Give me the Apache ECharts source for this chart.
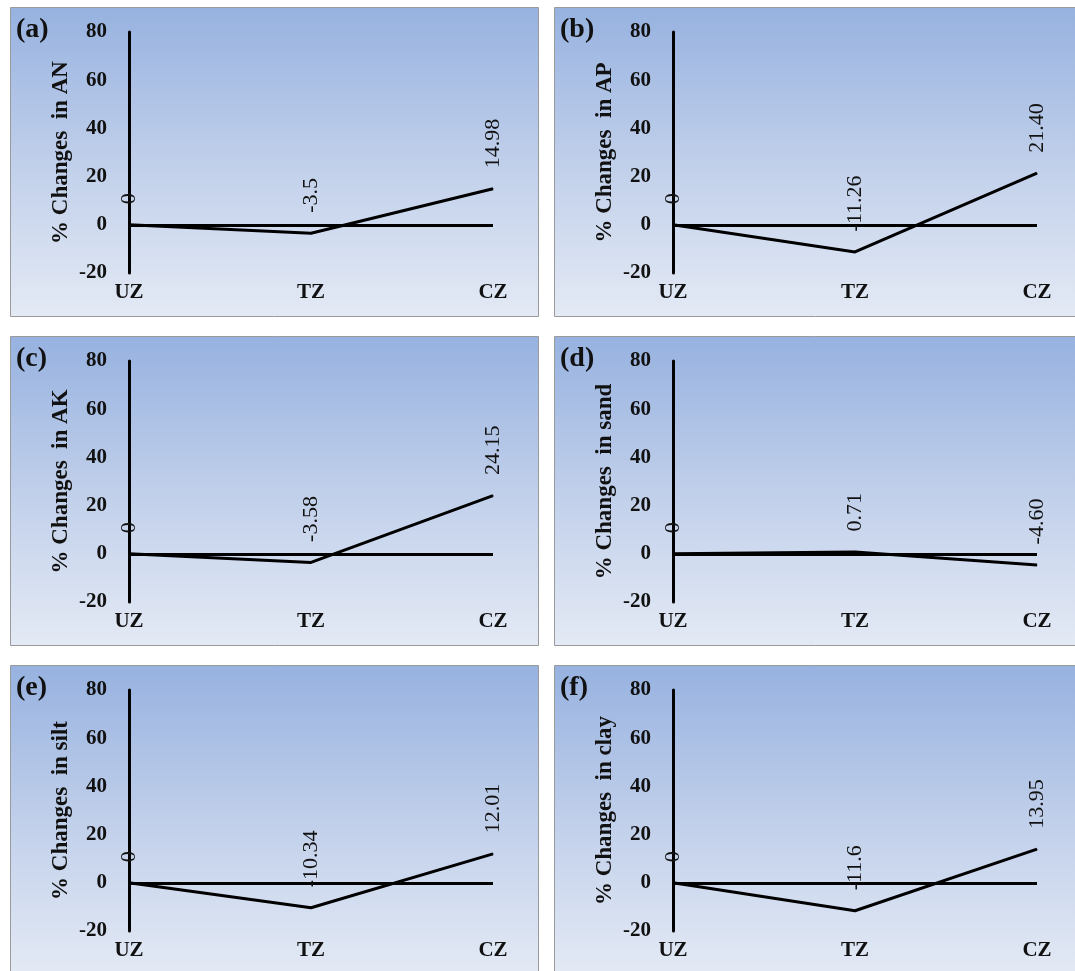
<!DOCTYPE html>
<html>
<head>
<meta charset="utf-8">
<script src="https://cdn.jsdelivr.net/npm/echarts@6/dist/echarts.min.js"></script>
<style>
html,body{margin:0;padding:0;background:#fff;}
#chart{width:1075px;height:971px;}
</style>
</head>
<body>
<div id="chart"></div>
<script>
var categories = ['UZ', 'TZ', 'CZ'];
var panelLetters = ['(a)', '(b)', '(c)', '(d)', '(e)', '(f)'];
var axisNames = ['% Changes  in AN', '% Changes  in AP', '% Changes  in AK', '% Changes  in sand', '% Changes  in silt', '% Changes  in clay'];
var valuesAN = [0, -3.5, 14.98];
var valuesAP = [0, -11.26, 21.40];
var valuesAK = [0, -3.58, 24.15];
var valuesSand = [0, 0.71, -4.60];
var valuesSilt = [0, -10.34, 12.01];
var valuesClay = [0, -11.6, 13.95];
var labelsAN = ['0', '-3.5', '14.98'];
var labelsAP = ['0', '-11.26', '21.40'];
var labelsAK = ['0', '-3.58', '24.15'];
var labelsSand = ['0', '0.71', '-4.60'];
var labelsSilt = ['0', '-10.34', '12.01'];
var labelsClay = ['0', '-11.6', '13.95'];
var yMin = -20, yMax = 80, yInterval = 20;

var allValues = [valuesAN, valuesAP, valuesAK, valuesSand, valuesSilt, valuesClay];
var allLabels = [labelsAN, labelsAP, labelsAK, labelsSand, labelsSilt, labelsClay];

var FONT = "'Liberation Serif', 'Times New Roman', serif";
var colX = [10, 554], rowY = [7, 336, 665];
var boxW = 528, boxH = 309;

var grids = [], xAxes = [], yAxes = [], series = [], graphics = [];
for (var i = 0; i < 6; i++) {
  var bx = colX[i % 2], by = rowY[Math.floor(i / 2)];
  graphics.push({
    type: 'rect', z: -10,
    shape: {x: bx + 0.5, y: by + 0.5, width: boxW, height: boxH},
    style: {
      fill: new echarts.graphic.LinearGradient(0, 0, 0, 1, [
        {offset: 0, color: '#97b2e0'},
        {offset: 0.5, color: '#c0cfea'},
        {offset: 1, color: '#e4eaf5'}
      ]),
      stroke: '#9a9a9a', lineWidth: 1
    }
  });
  graphics.push({
    type: 'text', z: 10,
    style: {x: bx + 6, y: by + 9, text: panelLetters[i], fill: '#111',
      font: 'bold 28px ' + FONT, textVerticalAlign: 'top'}
  });
  grids.push({left: bx + 119, top: by + 25, width: 364, height: 241});
  xAxes.push({
    type: 'category', gridIndex: i, data: categories, boundaryGap: false,
    axisLine: {show: false}, axisTick: {show: false}, splitLine: {show: false},
    axisLabel: {margin: 9, color: '#111', fontFamily: FONT, fontWeight: 'bold', fontSize: 21}
  });
  yAxes.push({
    type: 'value', gridIndex: i, min: yMin, max: yMax, interval: yInterval,
    name: axisNames[i], nameLocation: 'middle', nameGap: 56,
    nameTextStyle: {color: '#111', fontFamily: FONT, fontWeight: 'bold', fontSize: 23},
    axisLine: {show: true, lineStyle: {color: '#000', width: 3}},
    axisTick: {show: false}, splitLine: {show: false},
    axisLabel: {margin: 22, color: '#111', fontFamily: FONT, fontWeight: 'bold', fontSize: 21}
  });
  (function (labels) {
    series.push({
      type: 'line', xAxisIndex: i, yAxisIndex: i, data: allValues[i],
      symbol: 'circle', symbolSize: 1, itemStyle: {color: '#000'},
      lineStyle: {color: '#000', width: 3},
      animation: false, silent: true, z: 5,
      label: {
        show: true, position: 'top', distance: 20, rotate: 90,
        align: 'left', verticalAlign: 'middle',
        color: '#111', fontFamily: FONT, fontSize: 22,
        formatter: function (p) { return labels[p.dataIndex]; }
      },
      markLine: {
        silent: true, symbol: ['none', 'none'], animation: false,
        label: {show: false},
        lineStyle: {type: 'solid', color: '#000', width: 3},
        data: [{yAxis: 0}]
      }
    });
  })(allLabels[i]);
}

var chart = echarts.init(document.getElementById('chart'));
chart.setOption({
  backgroundColor: '#ffffff',
  animation: false,
  graphic: graphics,
  grid: grids,
  xAxis: xAxes,
  yAxis: yAxes,
  series: series
});
</script>
</body>
</html>
